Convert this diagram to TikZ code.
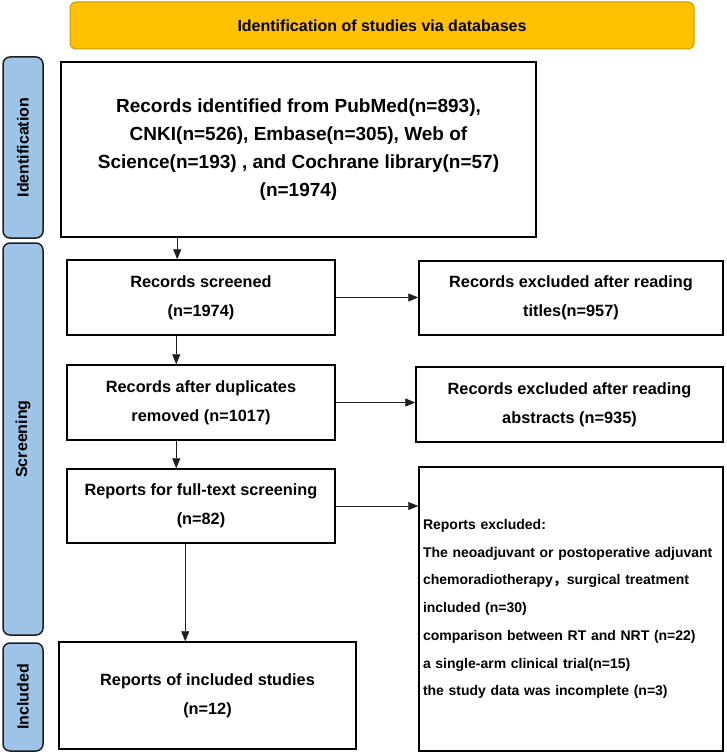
\documentclass[tikz,border=0pt]{standalone}
\usepackage{fontspec}
\setmainfont{Liberation Sans}
\newfontfamily\cjk{Noto Sans CJK SC}
\usetikzlibrary{arrows.meta,positioning}
\definecolor{gold}{RGB}{255,192,0}
\definecolor{goldline}{RGB}{205,155,0}
\definecolor{sky}{RGB}{157,195,230}
\definecolor{ink}{RGB}{30,30,30}
\tikzset{
  >={Triangle[length=10pt,width=8pt]},
  banner/.style={fill=gold,draw=goldline,line width=1pt,rounded corners=6pt,
    minimum width=624pt,minimum height=47pt,font=\fontsize{16}{19}\selectfont\bfseries},
  phase/.style={draw=ink,fill=sky,line width=1.5pt,rounded corners=7pt,rotate=90,
    minimum height=40pt,inner sep=0pt,font=\fontsize{16}{19}\selectfont\bfseries},
  box/.style={draw=black,line width=1.5pt,fill=white,inner sep=0pt,align=center,
    minimum width=268pt,minimum height=75pt,font=\fontsize{16.3}{29}\selectfont\bfseries},
  flow/.style={->,line width=0.8pt,draw=ink},
}
\begin{document}
\begin{tikzpicture}[x=1pt,y=-1pt]
  \useasboundingbox (0,0) rectangle (726,754);
  % header and phases
  \node[banner] (head) at (382,25.5) {Identification of studies via databases};
  \node[phase,minimum width=181pt] (pid) at (23,147.5) {Identification};
  \node[phase,minimum width=392pt] (pscr) at (23,439) {Screening};
  \node[phase,minimum width=108pt] (pinc) at (23,697) {Included};
  % main column
  \node[box,minimum width=475pt,minimum height=175pt,font=\fontsize{19}{28}\selectfont\bfseries] (ident) at (298.5,149.5)
    {Records identified from PubMed(n=893),\\CNKI(n=526), Embase(n=305), Web of\\Science(n=193) , and Cochrane library(n=57)\\(n=1974)};
  \node[box] (screen) at (201,297.5) {Records screened\\(n=1974)};
  \node[box] (dedup) at (201,402.5) {Records after duplicates\\removed (n=1017)};
  \node[box,minimum height=74pt] (full) at (201,506) {Reports for full-text screening\\(n=82)};
  \node[box,minimum width=297pt,minimum height=107pt] (incl) at (207.5,695.5) {Reports of included studies\\(n=12)};
  % exclusions
  \node[box,minimum width=304pt,minimum height=74pt] (excla) at (571,298) {Records excluded after reading\\titles(n=957)};
  \node[box,minimum width=307pt] (exclb) at (569.5,404.5) {Records excluded after reading\\abstracts (n=935)};
  \node[box,text width=296pt,inner xsep=4pt,minimum height=284pt,align=left,
    font=\fontsize{14}{27.7}\selectfont\bfseries] (exclc) at (571,609)
    {Reports excluded:\\The neoadjuvant or postoperative adjuvant\\chemoradiotherapy{\cjk ，}surgical treatment\\included (n=30)\\comparison between RT and NRT (n=22)\\a single-arm clinical trial(n=15)\\the study data was incomplete (n=3)};
  % connectors
  \draw[flow] ([xshift=117pt]ident.south west) -- ([xshift=111pt]screen.north west);
  \draw[flow] ([xshift=110pt]screen.south west) -- ([xshift=110pt]dedup.north west);
  \draw[flow] ([xshift=110pt]dedup.south west) -- ([xshift=110pt]full.north west);
  \draw[flow] ([xshift=119pt]full.south west) -- ([xshift=127pt]incl.north west);
  \draw[flow] (screen.east) -- (screen.east -| excla.west);
  \draw[flow] (dedup.east) -- (dedup.east -| exclb.west);
  \draw[flow] (full.east) -- (full.east -| exclc.west);
\end{tikzpicture}
\end{document}
